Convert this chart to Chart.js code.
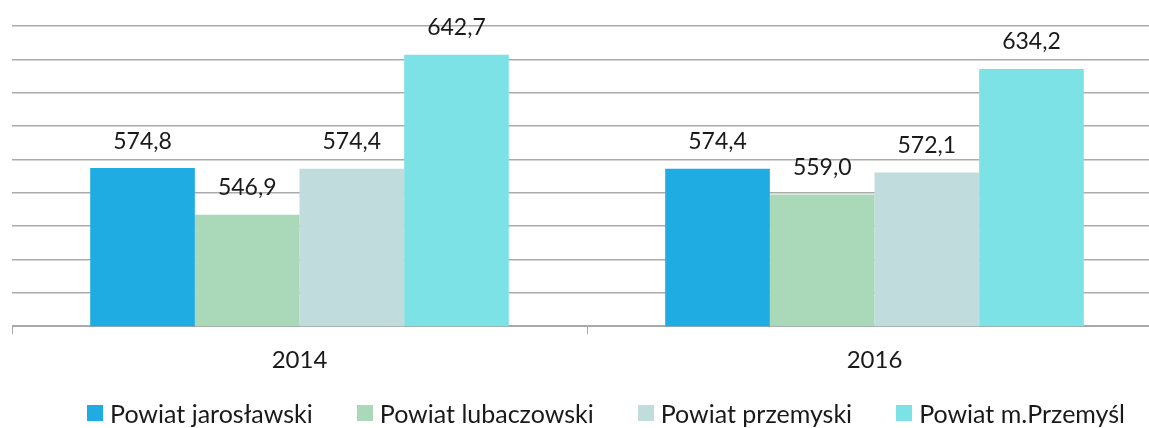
<!DOCTYPE html>
<html>
<head>
<meta charset="utf-8">
<script src="https://cdn.jsdelivr.net/npm/chart.js@4/dist/chart.umd.min.js"></script>
<style>
html,body{margin:0;padding:0;background:#fff;overflow:hidden;width:1149px;height:428px;}
#wrap{position:relative;width:1212px;height:428px;}
canvas{display:block;position:absolute;left:0;top:0;}
#legend{position:absolute;left:0;width:1212px;top:399px;height:28px;display:flex;justify-content:center;align-items:center;
  font-family:Lato,'Open Sans',sans-serif;font-size:25px;color:#1a1a1a;white-space:nowrap;}
.item{display:flex;align-items:center;margin:0 22px;}
.box{width:16px;height:16px;margin-right:7px;}
</style>
</head>
<body>
<div id="wrap">
<canvas id="c" width="1212" height="428"></canvas>
<div id="legend"></div>
</div>
<script>
const categories = ["2014", "2016"];
const seriesNames = ["Powiat jarosławski", "Powiat lubaczowski", "Powiat przemyski", "Powiat m.Przemyśl"];
const jaroslawski = [574.8, 574.4];
const lubaczowski = [546.9, 559.0];
const przemyski = [574.4, 572.1];
const przemysl = [642.7, 634.2];
const colors = ["#1FACE3", "#A9D9B8", "#C0DCDD", "#7DE2E6"];
const yMin = 480, yMax = 660, yStep = 20;

const FONT = "Lato, 'Open Sans', sans-serif";

const labelPlugin = {
  id: 'valueLabels',
  afterDatasetsDraw(chart) {
    const ctx = chart.ctx;
    ctx.save();
    ctx.font = "23px " + FONT;
    ctx.fillStyle = "#1a1a1a";
    ctx.textAlign = "center";
    ctx.textBaseline = "middle";
    chart.data.datasets.forEach((ds, i) => {
      const meta = chart.getDatasetMeta(i);
      meta.data.forEach((bar, j) => {
        const v = ds.data[j];
        ctx.fillText(v.toFixed(1).replace('.', ','), bar.x, bar.y - 27);
      });
    });
    ctx.restore();
  }
};

const seriesData = [jaroslawski, lubaczowski, przemyski, przemysl];

const chart = new Chart(document.getElementById('c'), {
  type: 'bar',
  data: {
    labels: categories,
    datasets: seriesNames.map((n, i) => ({
      label: n,
      data: seriesData[i],
      backgroundColor: colors[i],
      borderWidth: 0,
      categoryPercentage: 0.728,
      barPercentage: 1.0
    }))
  },
  options: {
    responsive: false,
    animation: false,
    layout: { padding: { left: 12, right: 50, top: 26, bottom: 41 } },
    plugins: {
      tooltip: { enabled: false },
      legend: { display: false }
    },
    scales: {
      x: {
        grid: { drawOnChartArea: false, drawTicks: true, tickLength: 8, color: "#A6A6A6", offset: true },
        border: { display: true, color: "#A6A6A6", width: 1 },
        ticks: { font: { family: FONT, size: 24 }, color: "#1a1a1a", padding: 12 }
      },
      y: {
        min: yMin, max: yMax,
        ticks: { display: false, stepSize: yStep },
        grid: { color: "#ABABAB", lineWidth: 1.5, drawTicks: false },
        border: { display: false }
      }
    }
  },
  plugins: [labelPlugin]
});

const legend = document.getElementById('legend');
chart.data.datasets.forEach((ds) => {
  const item = document.createElement('div');
  item.className = 'item';
  const box = document.createElement('span');
  box.className = 'box';
  box.style.background = ds.backgroundColor;
  const txt = document.createElement('span');
  txt.textContent = ds.label;
  item.appendChild(box);
  item.appendChild(txt);
  legend.appendChild(item);
});
</script>
</body>
</html>
